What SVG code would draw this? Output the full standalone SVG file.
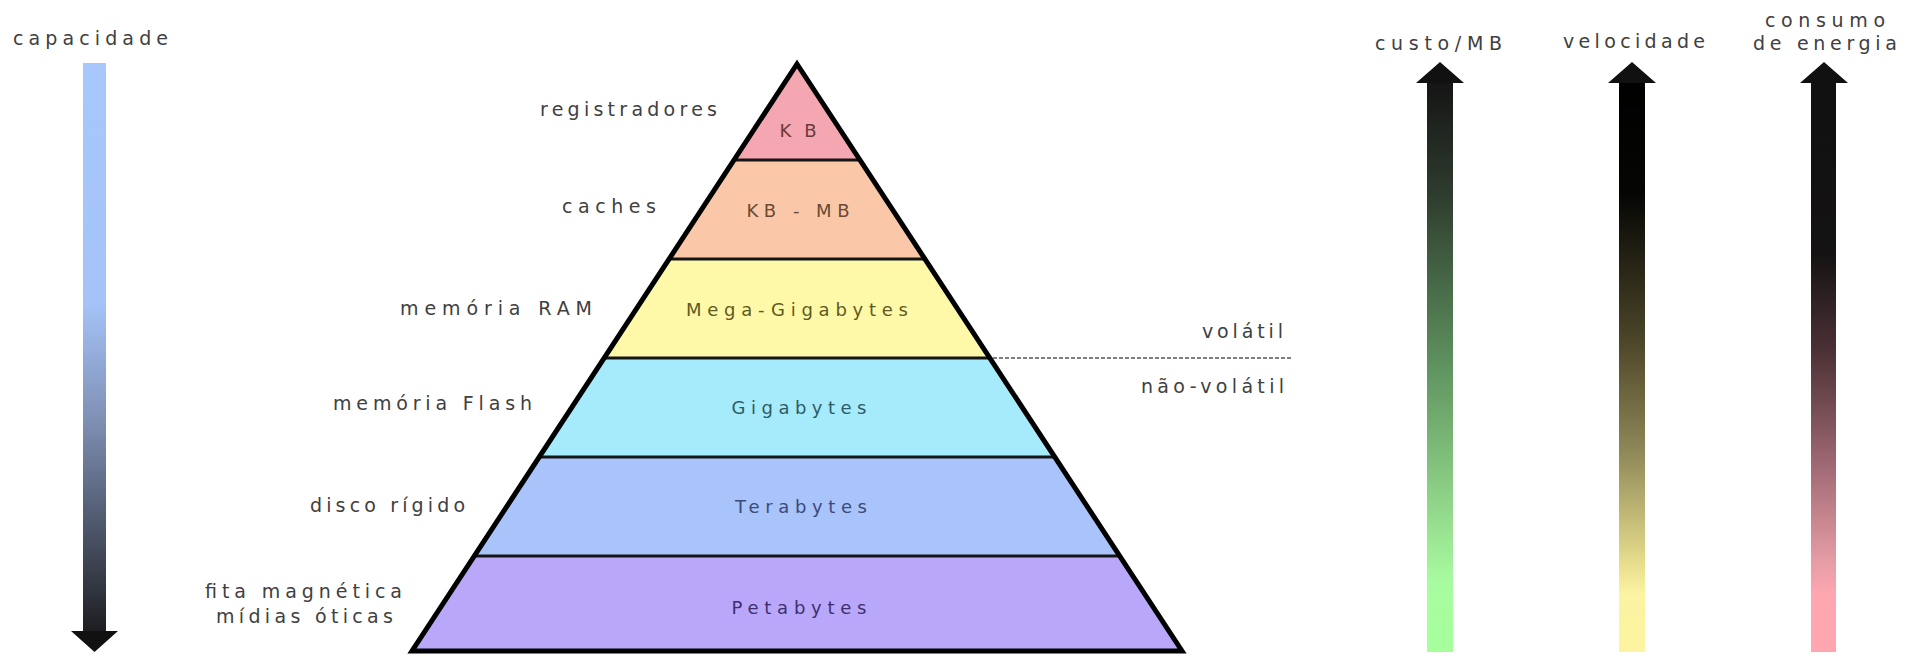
<svg xmlns="http://www.w3.org/2000/svg" width="1914" height="656" viewBox="0 0 1914 656">
<style>
.lbl{font-family:"DejaVu Sans","Liberation Sans",sans-serif;font-size:19px;fill:#404040}
.in{font-family:"DejaVu Sans","Liberation Sans",sans-serif;font-size:18px;text-anchor:middle}
.sep{stroke:#151515;stroke-width:3;fill:none}
.head{fill:#111}
</style>
<defs>
<linearGradient id="gCap" gradientUnits="userSpaceOnUse" x1="0" y1="63" x2="0" y2="635">
<stop offset="0" stop-color="#a7c7fd"/>
<stop offset="0.42" stop-color="#a5c3f8"/>
<stop offset="0.62" stop-color="#8091b6"/>
<stop offset="0.82" stop-color="#4b5468"/>
<stop offset="1" stop-color="#1c1c1e"/>
</linearGradient>
<linearGradient id="gCusto" gradientUnits="userSpaceOnUse" x1="0" y1="80" x2="0" y2="652">
<stop offset="0" stop-color="#141414"/>
<stop offset="0.2" stop-color="#2e3c2e"/>
<stop offset="0.5" stop-color="#5f925f"/>
<stop offset="0.78" stop-color="#98e090"/>
<stop offset="0.88" stop-color="#a8fca0"/>
<stop offset="1" stop-color="#a6ff9c"/>
</linearGradient>
<linearGradient id="gVel" gradientUnits="userSpaceOnUse" x1="0" y1="80" x2="0" y2="652">
<stop offset="0" stop-color="#000"/>
<stop offset="0.2" stop-color="#060604"/>
<stop offset="0.45" stop-color="#4a4428"/>
<stop offset="0.65" stop-color="#8f8858"/>
<stop offset="0.84" stop-color="#e5db8b"/>
<stop offset="0.9" stop-color="#fcf3a3"/>
<stop offset="1" stop-color="#fdf3a0"/>
</linearGradient>
<linearGradient id="gCons" gradientUnits="userSpaceOnUse" x1="0" y1="80" x2="0" y2="652">
<stop offset="0" stop-color="#111"/>
<stop offset="0.3" stop-color="#141212"/>
<stop offset="0.47" stop-color="#4a3034"/>
<stop offset="0.66" stop-color="#9a6570"/>
<stop offset="0.84" stop-color="#e59ca5"/>
<stop offset="0.9" stop-color="#fea7b1"/>
<stop offset="1" stop-color="#ffa7b0"/>
</linearGradient>
</defs>
<rect width="1914" height="656" fill="#fff"/>

<g id="capacidade">
<text class="lbl" x="13" y="45" textLength="155" lengthAdjust="spacing">capacidade</text>
<rect x="83" y="63" width="23" height="570" fill="url(#gCap)"/>
<polygon class="head" points="71,631 118,631 94.5,652"/>
</g>

<g id="pyramid">
<g id="band-kb"><polygon points="797,64 860,160 734,160" fill="#f5a7b1"/><text class="in" x="798" y="137" textLength="37" lengthAdjust="spacing" fill="#6b3a3f">KB</text></g>
<g id="band-kbmb"><polygon points="734,160 860,160 924.9,259 669.1,259" fill="#fac8a8"/><text class="in" x="798" y="217" textLength="103" lengthAdjust="spacing" fill="#6b4a33">KB - MB</text></g>
<g id="band-ram"><polygon points="669.1,259 924.9,259 989.8,358 604.2,358" fill="#fdf9a8"/><text class="in" x="797" y="316" textLength="222" lengthAdjust="spacing" fill="#5e5a22">Mega-Gigabytes</text></g>
<g id="band-flash"><polygon points="604.2,358 989.8,358 1054.8,457 539.2,457" fill="#a6ebfb"/><text class="in" x="799" y="414" textLength="135" lengthAdjust="spacing" fill="#2d5b66">Gigabytes</text></g>
<g id="band-hd"><polygon points="539.2,457 1054.8,457 1119.7,556 474.3,556" fill="#a8c4fa"/><text class="in" x="801" y="513" textLength="132" lengthAdjust="spacing" fill="#3b4a7a">Terabytes</text></g>
<g id="band-tape"><polygon points="474.3,556 1119.7,556 1182,651 412,651" fill="#b9a8f9"/><text class="in" x="799" y="614" textLength="135" lengthAdjust="spacing" fill="#3d2f70">Petabytes</text></g>
<path class="sep" d="M734,160H860M669.1,259H924.9M604.2,358H989.8M539.2,457H1054.8M474.3,556H1119.7"/>
<polygon points="797,64 1182,651 412,651" fill="none" stroke="#000" stroke-width="5" stroke-linejoin="miter" stroke-miterlimit="10"/>
</g>

<g id="labels">
<text class="lbl" x="540" y="116" textLength="177" lengthAdjust="spacing">registradores</text>
<text class="lbl" x="562" y="213" textLength="94" lengthAdjust="spacing">caches</text>
<text class="lbl" x="400" y="315" textLength="192" lengthAdjust="spacing">memória RAM</text>
<text class="lbl" x="333" y="410" textLength="199" lengthAdjust="spacing">memória Flash</text>
<text class="lbl" x="310" y="512" textLength="155" lengthAdjust="spacing">disco rígido</text>
<text class="lbl" x="205" y="598" textLength="197" lengthAdjust="spacing">fita magnética</text>
<text class="lbl" x="216" y="623" textLength="177" lengthAdjust="spacing">mídias óticas</text>
</g>

<g id="volatility">
<text class="lbl" x="1202" y="338" textLength="81" lengthAdjust="spacing">volátil</text>
<text class="lbl" x="1141" y="393" textLength="143" lengthAdjust="spacing">não-volátil</text>
</g>

<g id="connectors">
<line x1="993" y1="358" x2="1292" y2="358" stroke="#555" stroke-width="1.5" stroke-dasharray="4,2"/>
</g>

<g id="custo">
<text class="lbl" x="1375" y="50" textLength="127" lengthAdjust="spacing">custo/MB</text>
<rect x="1427" y="80" width="26" height="572" fill="url(#gCusto)"/>
<polygon class="head" points="1416,83 1464,83 1440,62"/>
</g>
<g id="velocidade">
<text class="lbl" x="1563" y="48" textLength="142" lengthAdjust="spacing">velocidade</text>
<rect x="1619" y="80" width="26" height="572" fill="url(#gVel)"/>
<polygon class="head" points="1608,83 1656,83 1632,62"/>
</g>
<g id="consumo">
<text class="lbl" x="1765" y="27" textLength="120" lengthAdjust="spacing">consumo</text>
<text class="lbl" x="1753" y="50" textLength="144" lengthAdjust="spacing">de energia</text>
<rect x="1811" y="80" width="25" height="572" fill="url(#gCons)"/>
<polygon class="head" points="1800,83 1848,83 1824,62"/>
</g>
</svg>
